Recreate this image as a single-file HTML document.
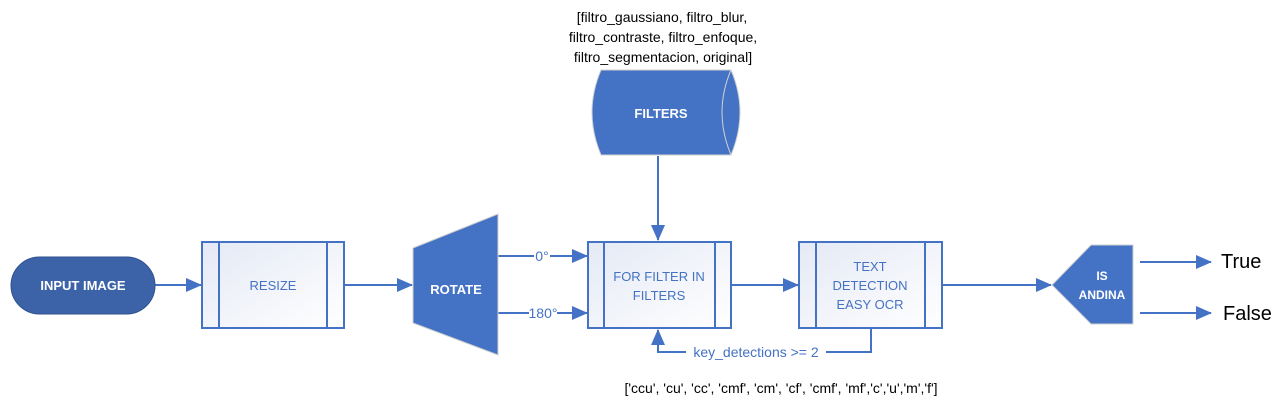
<!DOCTYPE html>
<html><head><meta charset="utf-8"><style>
html,body{margin:0;padding:0;background:#fff;}
svg{display:block;font-family:"Liberation Sans",sans-serif;}
</style></head><body>
<svg width="1287" height="417" viewBox="0 0 1287 417" xmlns="http://www.w3.org/2000/svg">
<defs>
<linearGradient id="g" x1="0" y1="0" x2="1" y2="1">
<stop offset="0" stop-color="#e4e9f5"/><stop offset="1" stop-color="#ffffff"/>
</linearGradient>
<marker id="a" markerWidth="16" markerHeight="14" refX="15" refY="7" orient="auto" markerUnits="userSpaceOnUse">
<path d="M0,0 L16,7 L0,14 z" fill="#4472c4"/>
</marker>
</defs>
<g stroke="#4472c4" stroke-width="2" fill="none">
<line x1="155" y1="285" x2="201" y2="285" marker-end="url(#a)"/>
<line x1="344" y1="285" x2="412" y2="285" marker-end="url(#a)"/>
<line x1="498" y1="256" x2="587" y2="256" marker-end="url(#a)"/>
<line x1="498" y1="313" x2="587" y2="313" marker-end="url(#a)"/>
<line x1="731" y1="285" x2="798" y2="285" marker-end="url(#a)"/>
<line x1="942" y1="285" x2="1051" y2="285" marker-end="url(#a)"/>
<line x1="1140" y1="262" x2="1211" y2="262" marker-end="url(#a)"/>
<line x1="1140" y1="313" x2="1211" y2="313" marker-end="url(#a)"/>
<line x1="658" y1="156" x2="658" y2="240" marker-end="url(#a)"/>
<polyline points="871,328 871,352 658,352 658,330" marker-end="url(#a)"/>
</g>
<rect x="11" y="257" width="144" height="57" rx="28.5" fill="#3c62a8" stroke="#2f528f" stroke-width="1"/>
<text x="83" y="290" fill="#fff" font-size="13" font-weight="bold" text-anchor="middle">INPUT IMAGE</text>
<rect x="202" y="242" width="142" height="86" fill="url(#g)" stroke="#4472c4" stroke-width="2"/>
<line x1="219" y1="242" x2="219" y2="328" stroke="#4472c4" stroke-width="2"/>
<line x1="327" y1="242" x2="327" y2="328" stroke="#4472c4" stroke-width="2"/>
<text x="273" y="290" fill="#4472c4" font-size="13" text-anchor="middle">RESIZE</text>
<polygon points="413,248 498,214 498,355 413,323" fill="#4472c4" stroke="#d0d0d0" stroke-width="1"/>
<text x="456" y="294" fill="#fff" font-size="13" font-weight="bold" text-anchor="middle">ROTATE</text>
<rect x="534" y="248" width="16" height="14" fill="#fff"/>
<text x="542" y="261" fill="#4472c4" font-size="14" text-anchor="middle">0°</text>
<rect x="529" y="305" width="28" height="15" fill="#fff"/>
<text x="543" y="318" fill="#4472c4" font-size="14" text-anchor="middle">180°</text>
<rect x="588" y="242" width="143" height="86" fill="url(#g)" stroke="#4472c4" stroke-width="2"/>
<line x1="604" y1="242" x2="604" y2="328" stroke="#4472c4" stroke-width="2"/>
<line x1="715" y1="242" x2="715" y2="328" stroke="#4472c4" stroke-width="2"/>
<text x="659" y="281" fill="#4472c4" font-size="13" text-anchor="middle">FOR FILTER IN</text>
<text x="659" y="300" fill="#4472c4" font-size="13" text-anchor="middle">FILTERS</text>
<rect x="799" y="242" width="143" height="86" fill="url(#g)" stroke="#4472c4" stroke-width="2"/>
<line x1="816" y1="242" x2="816" y2="328" stroke="#4472c4" stroke-width="2"/>
<line x1="925" y1="242" x2="925" y2="328" stroke="#4472c4" stroke-width="2"/>
<text x="870" y="271" fill="#4472c4" font-size="13" text-anchor="middle">TEXT</text>
<text x="870" y="290" fill="#4472c4" font-size="13" text-anchor="middle">DETECTION</text>
<text x="870" y="309" fill="#4472c4" font-size="13" text-anchor="middle">EASY OCR</text>
<rect x="686" y="344" width="140" height="16" fill="#fff"/>
<text x="756" y="357" fill="#4472c4" font-size="14" text-anchor="middle">key_detections &gt;= 2</text>
<polygon points="1052,285 1091,245 1133,245 1133,324 1091,324" fill="#4472c4" stroke="#d0d0d0" stroke-width="1"/>
<text x="1102" y="280" fill="#fff" font-size="12" font-weight="bold" text-anchor="middle">IS</text>
<text x="1102" y="299" fill="#fff" font-size="12" font-weight="bold" text-anchor="middle">ANDINA</text>
<text x="1221" y="268" fill="#000" font-size="20">True</text>
<text x="1223" y="320" fill="#000" font-size="20">False</text>
<path d="M601,70 L731,70 Q749,112 731,155 L601,155 Q583,112 601,70 Z" fill="#4472c4" stroke="#d0d0d0" stroke-width="1"/>
<path d="M731,70 Q713,112 731,155" fill="none" stroke="#d0d0d0" stroke-width="1"/>
<text x="661" y="118" fill="#fff" font-size="13" font-weight="bold" text-anchor="middle">FILTERS</text>
<g fill="#000" font-size="14" text-anchor="middle">
<text x="662" y="22">[filtro_gaussiano, filtro_blur,</text>
<text x="663" y="42">filtro_contraste, filtro_enfoque,</text>
<text x="663" y="62">filtro_segmentacion, original]</text>
<text x="781" y="393">['ccu', 'cu', 'cc', 'cmf', 'cm', 'cf', 'cmf', 'mf','c','u','m','f']</text>
</g>
</svg>
</body></html>
